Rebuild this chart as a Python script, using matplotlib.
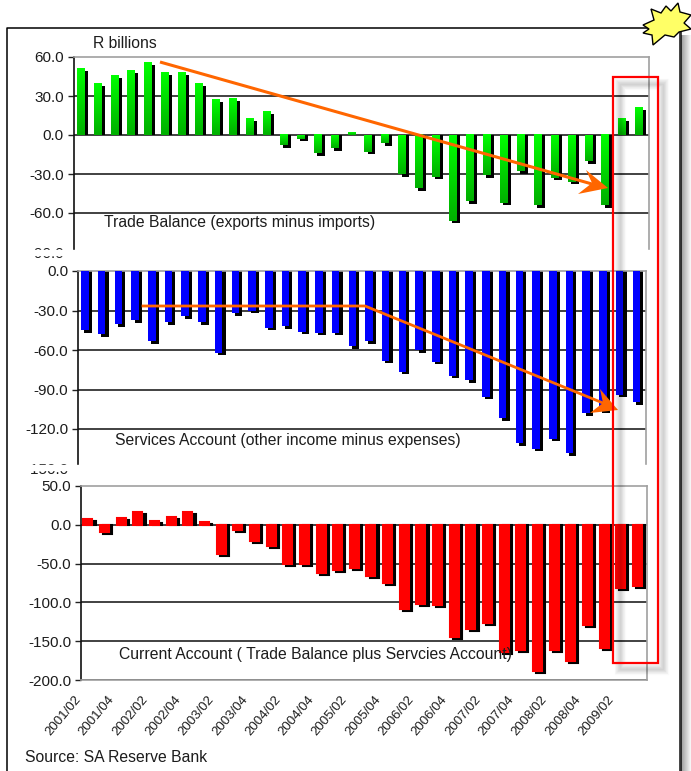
import matplotlib

matplotlib.use("Agg")
import matplotlib.patches as mpatches
import matplotlib.pyplot as plt
import matplotlib.transforms as mtransforms
import numpy as np

W, H = 691, 771

quarter_labels = ["2001/02", "2001/04", "2002/02", "2002/04", "2003/02", "2003/04",
                  "2004/02", "2004/04", "2005/02", "2005/04", "2006/02", "2006/04",
                  "2007/02", "2007/04", "2008/02", "2008/04", "2009/02"]

trade_balance = [51, 39.5, 46, 50, 56, 48, 48, 40, 27, 28, 13, 18, -8, -3, -14, -10, 2,
                 -13, -6.5, -30, -41, -32, -66, -51, -31, -52, -28, -54, -33, -36, -20, -54,
                 13, 21]
services_account = [-45, -48, -40.5, -37.5, -53.5, -39, -34.5, -39, -62, -32, -30, -43, -42,
                    -46, -47, -47, -57, -53.5, -68, -76.5, -60, -69, -79.5, -83, -95.5, -112,
                    -131, -135, -127.5, -138.5, -108, -106, -94, -99.5]
current_account = [7, -9, 8.5, 16, 5.5, 10.5, 16, 4, -37, -6.5, -20.5, -27, -51, -50, -62, -58,
                   -56, -66.5, -75.5, -108, -101.5, -103, -144, -134, -127, -164, -161, -189,
                   -161, -176, -128.5, -159, -81.5, -79]

trade_ticks = [60, 30, 0, -30, -60, -90]
services_ticks = [0, -30, -60, -90, -120, -150]
current_ticks = [50, 0, -50, -100, -150, -200]

plt.rcParams["font.family"] = ["Liberation Sans", "DejaVu Sans"]
plt.rcParams["axes.unicode_minus"] = False
TEXT = "#1c1c1c"
ORANGE = "#ff6600"

fig = plt.figure(figsize=(W / 100, H / 100), dpi=100, facecolor="white")


def panel(left, right, top, bottom, values, ticks, width, color, edge=0.0, shadow_px=2.5,
          shadow_dx=0.19, gradient=False):
    ax = fig.add_axes([left / W, 1 - bottom / H, (right - left) / W, (bottom - top) / H])
    ax.set_xlim(-0.5, len(values) - 0.5)
    ax.set_ylim(min(ticks), max(ticks))
    x = np.arange(len(values)) - 0.08
    values = np.asarray(values, dtype=float)
    per_px = (max(ticks) - min(ticks)) / (bottom - top)

    ax.set_axisbelow(True)
    ax.yaxis.grid(True, color="#333333", linewidth=1.3)
    ax.set_yticks(ticks)
    ax.set_yticklabels([f"{t:.1f}" for t in ticks], fontsize=11, color=TEXT)
    ax.tick_params(axis="y", length=4, width=1, color="#222222", pad=3)
    ax.set_xticks([])

    ax.spines["left"].set_color("#111111")
    ax.spines["left"].set_linewidth(1.2)
    for side in ("top", "right", "bottom"):
        ax.spines[side].set_color("#a0a0a0")
        ax.spines[side].set_linewidth(1.2)
    ax.spines["bottom"].set_visible(False)
    ax.yaxis.get_gridlines()[ticks.index(max(ticks))].set_visible(False)

    # black drop shadow first, then the face of each bar
    ax.bar(x + shadow_dx, values - shadow_px * per_px, width=width, color="black",
           edgecolor="black", linewidth=edge, zorder=2)
    bars = ax.bar(x, values, width=width, color=color, edgecolor=color, linewidth=edge, zorder=3)
    if gradient:
        fade = np.array([[0, 255, 0], [0, 175, 0]], dtype=np.uint8)
        ramp = np.linspace(0, 1, 64)[:, None, None]
        image = ((1 - ramp) * fade[0] + ramp * fade[1]).astype(np.uint8)
        for bar in bars:
            bar.set_alpha(0)
            x0, x1 = bar.get_x(), bar.get_x() + bar.get_width()
            y0, y1 = sorted((bar.get_y(), bar.get_y() + bar.get_height()))
            ax.imshow(image, extent=(x0, x1, y0, y1), aspect="auto", zorder=3, origin="upper")
        ax.set_xlim(-0.5, len(values) - 0.5)
        ax.set_ylim(min(ticks), max(ticks))
    return ax


ax_trade = panel(73.5, 649, 57, 252, trade_balance, trade_ticks, 0.46, "#00ff00", gradient=True)
ax_services = panel(78, 646, 271, 468.5, services_account, services_ticks, 0.45, "#0000ff")
ax_current = panel(81, 647, 486, 680, current_account, current_ticks, 0.54, "#ff0000", edge=1.5,
                   shadow_px=2.0)

ax_current.spines["bottom"].set_visible(True)
ax_current.set_xticks(np.arange(0, len(current_account), 2))
ax_current.set_xticklabels(quarter_labels, rotation=50, ha="right", rotation_mode="anchor",
                           fontsize=9.5, color=TEXT)
ax_current.tick_params(axis="x", length=0, pad=10)
shift_left = mtransforms.ScaledTranslation(-15 / 100, 0, fig.dpi_scale_trans)
for label in ax_current.get_xticklabels():
    label.set_transform(label.get_transform() + shift_left)

# overlay in pixel coordinates for the frame, callouts and captions
over = fig.add_axes([0, 0, 1, 1], zorder=10)
over.set_xlim(0, W)
over.set_ylim(H, 0)
over.axis("off")

# the lower panels sit on top of the panel above and crop its last tick
over.add_patch(mpatches.Rectangle((10, 250), 660, 5, color="white", zorder=1))
over.add_patch(mpatches.Rectangle((10, 465), 660, 5, color="white", zorder=1))

over.plot([7.5, 7.5, 680], [H, 27.5, 27.5], color="black", lw=1.1, zorder=2, solid_capstyle="butt")
over.plot([680, 680], [27.5, H], color="#333333", lw=2.0, zorder=2, solid_capstyle="butt")
for i in range(1, 11):
    over.add_patch(mpatches.Rectangle((680.5 + i, 35), 1, H - 35, color="black",
                                      alpha=0.42 * (1 - i / 11), linewidth=0, zorder=2))

for text, x, y in [("R billions", 93, 43),
                   ("Trade Balance (exports minus imports)", 104, 223),
                   ("Services Account (other income minus expenses)", 115, 440),
                   ("Current Account ( Trade Balance plus Servcies Account)", 119, 655),
                   ("Source: SA Reserve Bank", 25, 757)]:
    over.text(x, y, text, fontsize=11.3, color=TEXT, ha="left", va="center", zorder=3)

# trend arrows
over.plot([160, 592], [62, 184], color=ORANGE, lw=2.2, zorder=4, solid_capstyle="butt")
over.add_patch(mpatches.Polygon([(608, 188), (586, 170), (592, 183), (578, 194)],
                                closed=True, color=ORANGE, linewidth=0, zorder=4))
over.plot([143, 365, 603], [306, 306, 403], color=ORANGE, lw=2.0, zorder=4, solid_joinstyle="round")
over.add_patch(mpatches.Polygon([(618, 410), (600, 389), (603, 403), (590, 413)],
                                closed=True, color=ORANGE, linewidth=0, zorder=4))

# soft shadow under the red highlight box
for grow in np.arange(0, 9):
    over.add_patch(mpatches.Rectangle((620, 84), 43, 585, fill=False, edgecolor="black",
                                      alpha=0.02, linewidth=(grow + 1) * 0.9, zorder=5))
over.add_patch(mpatches.Rectangle((613, 76.5), 45, 586.5, fill=False, edgecolor="#ff0000",
                                  linewidth=1.6, zorder=6))

# yellow starburst in the top corner
burst_x = [643, 654, 651, 661, 666, 671, 678, 680, 691, 684, 691, 679, 674, 665, 653, 652, 643, 649]
burst_y = [25, 20, 9, 13, 6, 11, 3, 12, 15, 23, 29, 32, 37, 35, 45, 35, 33, 29]
over.add_patch(mpatches.Polygon(np.column_stack([burst_x, burst_y]), closed=True,
                                facecolor="#ffff66", edgecolor="black", linewidth=1.0, zorder=7))

fig.savefig("out.png", dpi=100)
plt.close(fig)
